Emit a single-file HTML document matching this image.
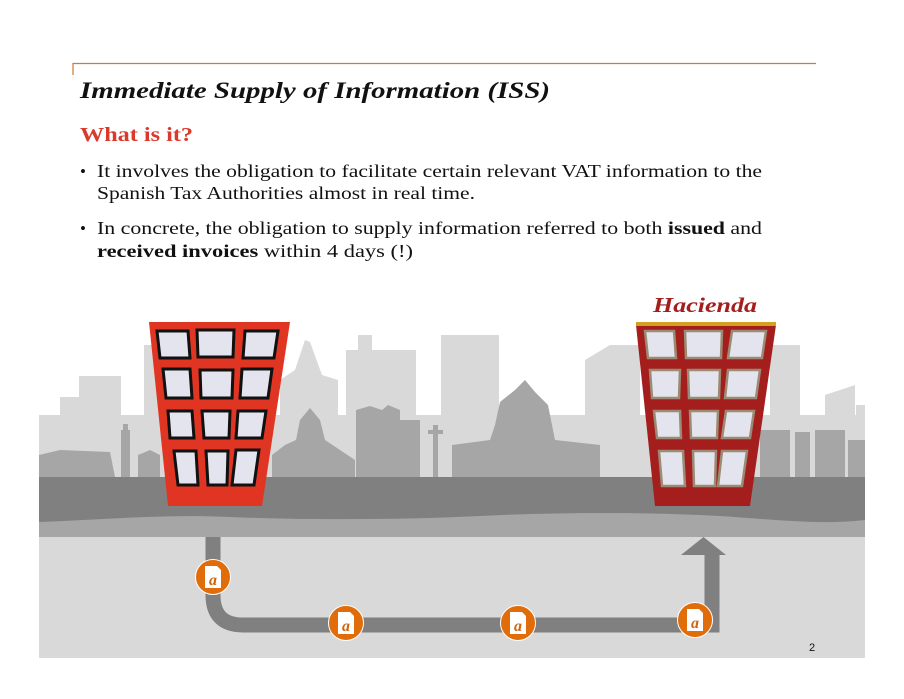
<!DOCTYPE html>
<html><head><meta charset="utf-8"><style>html,body{margin:0;padding:0;background:#fff}svg{display:block}</style></head><body>
<svg width="904" height="699" viewBox="0 0 904 699" xmlns="http://www.w3.org/2000/svg" font-family="'Liberation Serif', serif">
<path d="M73 75 V63.5 H816" fill="none" stroke="#d07a30" stroke-width="1.2"/>
<text x="80" y="98" font-size="23" font-weight="bold" font-style="italic" fill="#111" textLength="470" lengthAdjust="spacingAndGlyphs">Immediate Supply of Information (ISS)</text>
<text x="80" y="141" font-size="20" font-weight="bold" fill="#d93a2b" textLength="113" lengthAdjust="spacingAndGlyphs">What is it?</text>
<g font-size="18" fill="#111">
<text x="80" y="177" font-size="17">•</text>
<text x="97" y="177" textLength="665" lengthAdjust="spacingAndGlyphs">It involves the obligation to facilitate certain relevant VAT  information to the</text>
<text x="97" y="199" textLength="378" lengthAdjust="spacingAndGlyphs">Spanish Tax Authorities almost in real time.</text>
<text x="80" y="234" font-size="17">•</text>
<text x="97" y="234" textLength="665" lengthAdjust="spacingAndGlyphs">In concrete, the obligation to supply information referred to both <tspan font-weight="bold">issued</tspan> and</text>
<text x="97" y="257" textLength="316" lengthAdjust="spacingAndGlyphs"><tspan font-weight="bold">received invoices</tspan> within 4 days (!)</text>
</g>
<!-- skyline -->
<rect x="39" y="415" width="826" height="70" fill="#d9d9d9"/>
<g fill="#d9d9d9">
<path d="M39 415 H60 V397 H79 V376 H121 V480 H39Z"/>
<rect x="144" y="345" width="20" height="135"/>
<path d="M280 480 V380 L295 370 L305 340 L310 342 L322 375 L338 380 V480Z"/>
<rect x="346" y="350" width="70" height="130"/>
<rect x="358" y="335" width="14" height="20"/>
<rect x="441" y="335" width="58" height="145"/>
<path d="M585 480 V360 L610 345 L640 345 V480Z"/>
<rect x="770" y="345" width="30" height="135"/>
<path d="M825 480 V395 L855 385 V480Z"/>
<rect x="856" y="405" width="9" height="75"/>
</g>
<g fill="#a6a6a6">
<path d="M39 477 V455 L60 450 L110 452 L115 477Z"/>
<rect x="121" y="430" width="9" height="47"/>
<rect x="123" y="424" width="5" height="8"/>
<path d="M138 477 V455 L150 450 L160 455 V477Z"/>
<path d="M272 477 V455 L285 445 L296 440 L300 420 L310 408 L320 420 L325 440 L340 450 L355 460 V477Z"/>
<path d="M356 477 V410 L370 406 L382 410 L388 405 L400 410 V477Z"/>
<rect x="390" y="420" width="30" height="57"/>
<rect x="433" y="425" width="5" height="52"/><rect x="428" y="430" width="15" height="4"/>
<path d="M452 477 V445 L490 440 L495 425 L500 402 L515 390 L525 380 L535 392 L548 405 L552 425 L555 440 L600 445 V477Z"/>
<rect x="760" y="430" width="30" height="47"/>
<rect x="795" y="432" width="15" height="45"/>
<rect x="815" y="430" width="30" height="47"/>
<rect x="848" y="440" width="17" height="37"/>
</g>
<!-- ground bands -->
<rect x="39" y="477" width="826" height="60" fill="#a6a6a6"/>
<path d="M39 477 H865 V520 C820 525 780 520 720 516 C650 512 560 512 480 516 C400 520 300 520 230 517 C160 514 100 520 39 522Z" fill="#808080"/>
<rect x="39" y="537" width="826" height="121" fill="#d9d9d9"/>
<!-- pipe -->
<path d="M213 537 V595 Q213 625 243 625 H712 V553" fill="none" stroke="#808080" stroke-width="15"/>
<path d="M681 555 H726 L703.5 537Z" fill="#808080"/>
<!-- left building -->
<path d="M149 322 H290 L262 506 H168Z" fill="#e03523"/>
<g fill="#e4e4ee" stroke="#111" stroke-width="3">
<path d="M157 331 H188 L190 358 H160Z"/><path d="M197 330 H234 L233 357 H198Z"/><path d="M245 331 H278 L274 358 H243Z"/>
<path d="M163 369 H190 L192 398 H166Z"/><path d="M200 370 H233 L232 398 H201Z"/><path d="M242 369 H272 L268 398 H240Z"/>
<path d="M168 411 H192 L194 438 H170Z"/><path d="M202 411 H230 L229 438 H204Z"/><path d="M238 411 H266 L262 438 H236Z"/>
<path d="M174 451 H196 L198 485 H178Z"/><path d="M206 451 H228 L227 485 H208Z"/><path d="M236 450 H259 L254 485 H232Z"/>
</g>
<!-- right building -->
<path d="M636 325 H776 L750 506 H655Z" fill="#a51e1e"/>
<rect x="636" y="322" width="140" height="4" fill="#d4a020"/>
<g fill="#e4e4ee" stroke="#9a8c74" stroke-width="2.5">
<path d="M645 331 H674 L676 358 H648Z"/><path d="M685 331 H722 L721 358 H686Z"/><path d="M732 331 H766 L762 358 H728Z"/>
<path d="M650 370 H680 L679 398 H652Z"/><path d="M688 370 H720 L719 398 H689Z"/><path d="M728 370 H760 L756 398 H725Z"/>
<path d="M654 411 H680 L681 438 H657Z"/><path d="M690 411 H718 L717 438 H691Z"/><path d="M726 411 H754 L750 438 H722Z"/>
<path d="M659 451 H683 L685 486 H662Z"/><path d="M693 451 H716 L715 486 H694Z"/><path d="M722 451 H747 L742 486 H718Z"/>
</g>
<text x="653" y="312" font-size="21" font-weight="bold" font-style="italic" fill="#a51e1e" textLength="104" lengthAdjust="spacingAndGlyphs">Hacienda</text>
<!-- doc circles -->
<g>
<g transform="translate(213,577)"><circle r="17.5" fill="#e06c0a" stroke="#fff" stroke-width="1"/><path d="M-8 -11 H4 L8 -7 V11 H-8Z" fill="#fff"/><text x="0" y="8" font-size="16" font-style="italic" font-weight="bold" fill="#d0650a" text-anchor="middle">a</text></g>
<g transform="translate(346,623)"><circle r="17.5" fill="#e06c0a" stroke="#fff" stroke-width="1"/><path d="M-8 -11 H4 L8 -7 V11 H-8Z" fill="#fff"/><text x="0" y="8" font-size="16" font-style="italic" font-weight="bold" fill="#d0650a" text-anchor="middle">a</text></g>
<g transform="translate(518,623)"><circle r="17.5" fill="#e06c0a" stroke="#fff" stroke-width="1"/><path d="M-8 -11 H4 L8 -7 V11 H-8Z" fill="#fff"/><text x="0" y="8" font-size="16" font-style="italic" font-weight="bold" fill="#d0650a" text-anchor="middle">a</text></g>
<g transform="translate(695,620)"><circle r="17.5" fill="#e06c0a" stroke="#fff" stroke-width="1"/><path d="M-8 -11 H4 L8 -7 V11 H-8Z" fill="#fff"/><text x="0" y="8" font-size="16" font-style="italic" font-weight="bold" fill="#d0650a" text-anchor="middle">a</text></g>
</g>
<text x="809" y="651" font-size="11" font-family="'Liberation Sans', sans-serif" fill="#111">2</text>
</svg>
</body></html>
